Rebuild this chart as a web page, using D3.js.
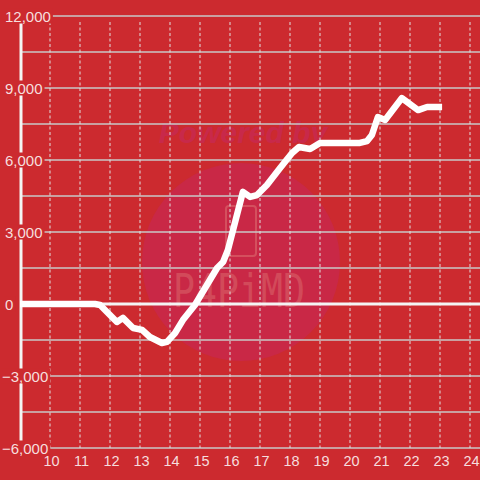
<!DOCTYPE html>
<html><head><meta charset="utf-8">
<script src="https://cdn.jsdelivr.net/npm/d3@7"></script>
<style>html,body{margin:0;padding:0;background:#cc2a2f;}svg{display:block;font-family:"Liberation Sans",Arial,sans-serif;}</style>
</head><body>
<svg id="c" width="480" height="480"></svg>
<script>
const hours = [9, 11.5, 11.67, 12.23, 12.43, 12.77, 13.07, 13.33, 13.73, 13.9, 14.17, 14.43, 14.83, 15.23, 15.57, 15.77, 15.93, 16.43, 16.67, 16.9, 17.23, 17.67, 18.07, 18.3, 18.67, 19.0, 20.33, 20.57, 20.73, 20.93, 21.17, 21.73, 22.27, 22.57, 23.07];
const values = [0, 0, -40, -750, -580, -1000, -1080, -1375, -1625, -1580, -1210, -670, -40, 790, 1500, 1750, 2250, 4670, 4460, 4540, 4960, 5670, 6290, 6540, 6460, 6710, 6710, 6790, 7040, 7790, 7670, 8580, 8080, 8210, 8210];
const xTicks = [10, 11, 12, 13, 14, 15, 16, 17, 18, 19, 20, 21, 22, 23, 24];
const yGrid = [-6000, -4500, -3000, -1500, 0, 1500, 3000, 4500, 6000, 7500, 9000, 10500, 12000];
const yLabels = [-6000, -3000, 0, 3000, 6000, 9000, 12000];

const bg = "#cc2a2f";
const svg = d3.select("#c");
const x = d3.scaleLinear().domain([9, 24]).range([20, 470]);
const y = d3.scaleLinear().domain([-6000, 12000]).range([448, 16]);

svg.append("rect").attr("width", 480).attr("height", 480).attr("fill", bg);

// watermark
const wm = svg.append("g");
wm.append("circle").attr("cx", 241).attr("cy", 262).attr("r", 99).attr("fill", "#c92846");
wm.append("text").attr("x", 243).attr("y", 143).attr("text-anchor", "middle")
  .attr("font-size", 30).attr("font-weight", "bold").attr("font-style", "italic")
  .attr("fill", "#c8294a").text("Powered by");
wm.append("rect").attr("x", 226).attr("y", 206).attr("width", 30).attr("height", 50).attr("rx", 3)
  .attr("fill", "none").attr("stroke", "#d4505e").attr("stroke-width", 2);
wm.append("text").attr("x", 173).attr("y", 307)
  .attr("font-size", 46).attr("font-family", "DejaVu Sans Mono, monospace")
  .attr("textLength", 132).attr("lengthAdjust", "spacingAndGlyphs")
  .attr("fill", "#d24a5a").text("P4PiMD");

// horizontal grid
svg.append("g").selectAll("line").data(yGrid.filter(d => d !== 0)).join("line")
  .attr("x1", 20).attr("x2", 480).attr("y1", d => y(d)).attr("y2", d => y(d))
  .attr("stroke", "#c8c8c8").attr("stroke-width", 1.3);

// vertical dashed grid
svg.append("g").selectAll("line").data(xTicks).join("line")
  .attr("x1", d => x(d)).attr("x2", d => x(d)).attr("y1", 22).attr("y2", 448)
  .attr("stroke", "#e0e0e0").attr("stroke-width", 1).attr("stroke-dasharray", "3,2.5");

// zero line
svg.append("line").attr("x1", 20).attr("x2", 480).attr("y1", y(0)).attr("y2", y(0))
  .attr("stroke", "#f4f4f4").attr("stroke-width", 3);

// y axis line
svg.append("line").attr("x1", 21).attr("x2", 21).attr("y1", 16).attr("y2", 448)
  .attr("stroke", "#f4f4f4").attr("stroke-width", 3);

// y labels with background
const fmt = d3.format(",");
const yl = svg.append("g").selectAll("g").data(yLabels).join("g");
yl.append("rect").attr("fill", bg);
yl.append("text").attr("x", d => d < 0 ? 2 : 5).attr("y", d => y(d) + 5.5)
  .attr("font-size", 15).attr("fill", "#f6dede").text(d => fmt(d));
yl.each(function() {
  const g = d3.select(this);
  const b = g.select("text").node().getBBox();
  g.select("rect").attr("x", b.x - 1).attr("y", b.y + 1).attr("width", b.width + 3).attr("height", b.height - 2);
});

// x labels
svg.append("g").selectAll("text").data(xTicks).join("text")
  .attr("x", d => x(d) + 1.5).attr("y", 466).attr("text-anchor", "middle")
  .attr("font-size", 14.5).attr("fill", "#f6dede").text(d => d);

// line
const pts = hours.map((h, i) => [h, values[i]]);
svg.append("path").datum(pts)
  .attr("d", d3.line().x(d => x(d[0])).y(d => y(d[1])))
  .attr("fill", "none").attr("stroke", "#ffffff").attr("stroke-width", 6.5)
  .attr("stroke-linejoin", "round").attr("stroke-linecap", "butt");
</script>
</body></html>
